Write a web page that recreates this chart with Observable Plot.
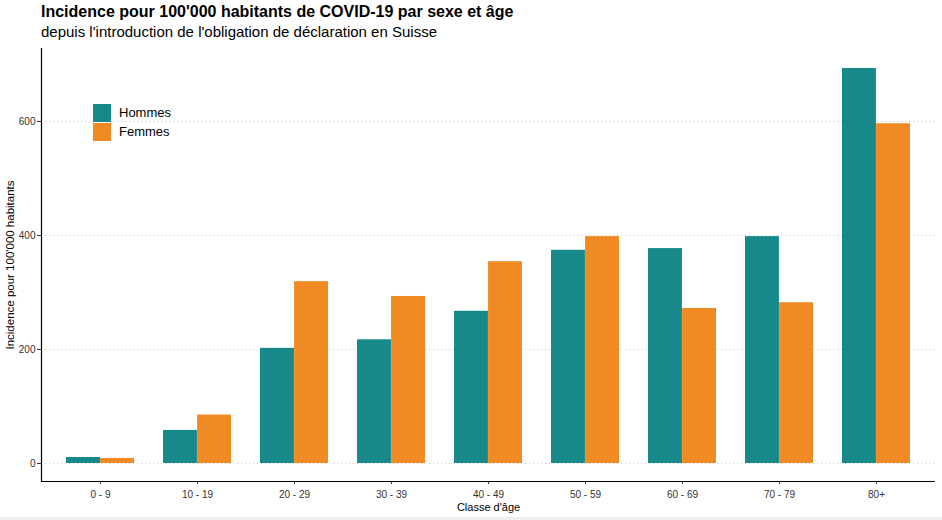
<!DOCTYPE html>
<html>
<head>
<meta charset="utf-8">
<script src="https://cdn.jsdelivr.net/npm/d3@7"></script>
<script src="https://cdn.jsdelivr.net/npm/@observablehq/plot@0.6"></script>
<style>
  html, body { margin: 0; padding: 0; background: #efefef; }
  #wrap { position: relative; width: 942px; height: 517px; background: #ffffff; overflow: hidden;
          font-family: "Liberation Sans", Arial, sans-serif; }
  #title { position: absolute; left: 41px; top: 3px; font-size: 16px; font-weight: bold; color: #000; white-space: nowrap; }
  #subtitle { position: absolute; left: 41px; top: 23px; font-size: 15px; color: #000; white-space: nowrap; }
  #chart { position: absolute; left: 0; top: 44px; }
  #legend { position: absolute; left: 93px; top: 103px; font-size: 13px; color: #000; }
  .item { display: flex; align-items: center; height: 19px; }
  .sw { width: 18px; height: 18px; margin-right: 8px; }
</style>
</head>
<body>
<div id="wrap">
  <div id="title">Incidence pour 100'000 habitants de COVID-19 par sexe et âge</div>
  <div id="subtitle">depuis l'introduction de l'obligation de déclaration en Suisse</div>
  <div id="chart"></div>
  <div id="legend"></div>
</div>
<script>
const ages = ["0 - 9", "10 - 19", "20 - 29", "30 - 39", "40 - 49", "50 - 59", "60 - 69", "70 - 79", "80+"];
const hommes = [10.5, 58, 202, 217, 267, 374, 377, 398, 693];
const femmes = [8.8, 85, 319, 293, 354, 398, 272, 282, 596];
const sexes = ["Hommes", "Femmes"];
const colors = ["#17898b", "#f08b23"];
const yTicks = [0, 200, 400, 600];
const yDomain = [-31.6, 728];
const yLabel = "Incidence pour 100'000 habitants";
const xLabel = "Classe d'âge";

const data = ages.flatMap((a, i) => [
  {age: a, sexe: "Hommes", v: hommes[i]},
  {age: a, sexe: "Femmes", v: femmes[i]}
]);

const W = 942, H = 473, mL = 41, mR = 7, mT = 4, mB = 36;
const pIn = 0.3, pOut = 0.2425;
const step = (W - mL - mR) / (ages.length - pIn + 2 * pOut);
const half = step * (1 - pIn) / 2;

const chart = Plot.plot({
  width: W, height: H,
  marginTop: mT, marginBottom: mB, marginLeft: mL, marginRight: mR,
  style: {fontFamily: "'Liberation Sans', Arial, sans-serif", background: "transparent"},
  x: {domain: ages, paddingInner: pIn, paddingOuter: pOut, axis: null},
  y: {domain: yDomain, axis: null},
  color: {domain: sexes, range: colors},
  marks: [
    Plot.ruleY(yTicks, {stroke: "#c4c4c4", strokeWidth: 1, strokeDasharray: "1,3"}),
    Plot.barY(data.filter(d => d.sexe === "Hommes"), {x: "age", y: "v", fill: "sexe", insetRight: half}),
    Plot.barY(data.filter(d => d.sexe === "Femmes"), {x: "age", y: "v", fill: "sexe", insetLeft: half}),
    Plot.axisY({ticks: yTicks, tickSize: 4, tickPadding: 2, fontSize: 10, color: "#333", label: null}),
    Plot.axisX({tickSize: 3, tickPadding: 6, fontSize: 10, color: "#333", label: null}),
    Plot.text([yLabel], {frameAnchor: "left", dx: -31, rotate: -90, fontSize: 11.5, fill: "#000",
      textAnchor: "middle", lineAnchor: "middle"}),
    Plot.text([xLabel], {frameAnchor: "bottom", dy: 26, fontSize: 11, fill: "#000", textAnchor: "middle", lineAnchor: "middle"}),
    Plot.ruleY([yDomain[0]], {stroke: "#000", strokeWidth: 1.2}),
    Plot.frame({anchor: "left", stroke: "#000", strokeWidth: 1.2})
  ]
});
document.getElementById("chart").appendChild(chart);

const leg = document.getElementById("legend");
sexes.forEach((s, i) => {
  const it = document.createElement("div");
  it.className = "item";
  const sw = document.createElement("div");
  sw.className = "sw";
  sw.style.background = colors[i];
  const t = document.createElement("span");
  t.textContent = s;
  it.appendChild(sw); it.appendChild(t);
  leg.appendChild(it);
});
</script>
</body>
</html>
